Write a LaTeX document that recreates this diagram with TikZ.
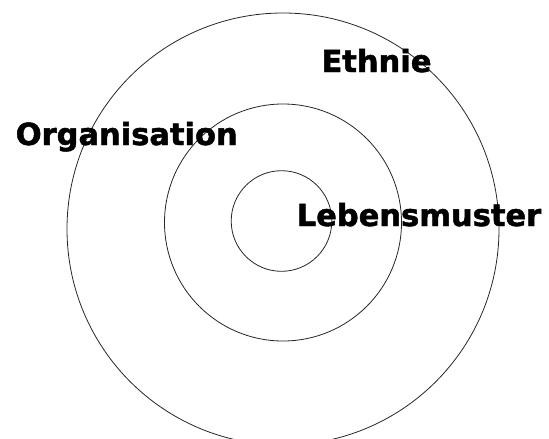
\documentclass[tikz,border=0pt]{standalone}
\usepackage{fontspec}
\setmainfont{DejaVu Sans}
\newfontfamily\heavyfont[FakeBold=1.6]{DejaVu Sans Bold}
\usepackage{tikz}

\begin{document}
\begin{tikzpicture}[x=1pt, y=-1pt, line width=0.8pt,
    ring/.style={draw=black!85, circle, inner sep=0pt, outer sep=0pt},
    lbl/.style={anchor=base, inner sep=0pt, font=\fontsize{30.5}{37}\heavyfont}]

  %% ════ 三个同心圆 ════
  \node[ring, minimum size=432.0pt] (ethnie ring) at (283.0,229.0) {};
  \node[ring, minimum size=237.0pt] (orga ring)   at (283.0,222.5) {};
  \node[ring, minimum size=100.6pt] (leben ring)  at (281.5,221.0) {};

  %% ════ 标签 ════
  \node[lbl] (ethnie) at (376.5,72.0)  {Ethnie};
  \node[lbl] (orga)   at (126.7,145.0) {Organisation};
  \node[lbl] (leben)  at (419.0,226.0) {Lebensmuster};

  % 钉死画布
  \pgfresetboundingbox
  \path[use as bounding box] (0,0) rectangle (549,439);
\end{tikzpicture}
\end{document}
